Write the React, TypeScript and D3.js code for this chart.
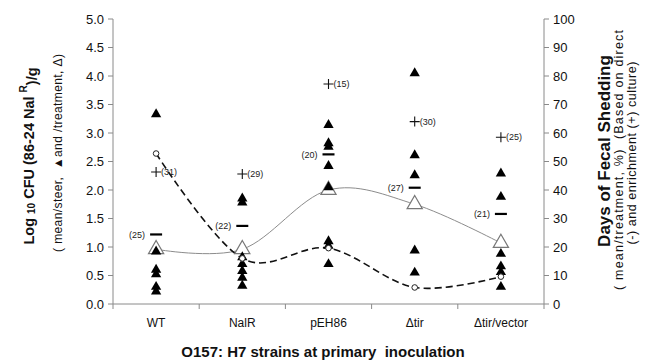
import * as d3 from "d3";

const categories = ["WT", "NalR", "pEH86", "Δtir", "Δtir/vector"];

// filled triangles: log10 CFU per steer
const steerValues = [
  [3.33, 0.92, 0.6, 0.52, 0.3, 0.22],
  [1.85, 1.78, 0.82, 0.7, 0.58, 0.46, 0.32],
  [3.14, 2.82, 2.76, 2.42, 2.05, 1.1, 1.02, 0.7],
  [4.05, 2.61, 2.26, 0.94, 0.55],
  [2.29, 1.88, 0.88, 0.66, 0.56, 0.3],
];
// open triangles: mean per treatment (solid line)
const treatmentMeans = [0.96, 0.96, 2.0, 1.75, 1.07];
// open circles (dashed line)
const dashedMeans = [2.64, 0.8, 0.98, 0.29, 0.48];
// days of fecal shedding, % (direct "-" and enrichment "+")
const directDays = [24.4, 27.4, 52.5, 40.8, 31.6];
const directLabels = ["(25)", "(22)", "(20)", "(27)", "(21)"];
const enrichDays = [46.3, 45.6, 77.2, 64, 58.5];
const enrichLabels = ["(31)", "(29)", "(15)", "(30)", "(25)"];

const leftTicks = [0, 0.5, 1, 1.5, 2, 2.5, 3, 3.5, 4, 4.5, 5];
const rightTicks = [0, 10, 20, 30, 40, 50, 60, 70, 80, 90, 100];

const W = 651, H = 364;
const L = 113, R = 544, T = 19, B = 304;
const font = "'Liberation Sans', Arial, sans-serif";
const axisColor = "#8a8a8a";

export default function App() {
  const x = d3.scaleBand().domain(categories).range([L, R]);
  const xc = (c: string) => (x(c) as number) + x.bandwidth() / 2;
  const yL = d3.scaleLinear().domain([0, 5]).range([B, T]);
  const yR = d3.scaleLinear().domain([0, 100]).range([B, T]);

  const tri = d3.symbol().type(d3.symbolTriangle);
  const smallTri = tri.size(46)() as string;
  const bigTri = tri.size(100)() as string;

  const line = d3
    .line<number>()
    .x((_, i) => xc(categories[i]))
    .y(d => yL(d))
    .curve(d3.curveCardinal.tension(0));

  const boundaries = [...categories.map(c => x(c) as number), R];

  return (
    <svg width={W} height={H} style={{ position: "absolute", left: 0, top: 0, background: "#fff" }} fontFamily={font}>
      {/* axes */}
      <line x1={L} x2={L} y1={T} y2={B} stroke={axisColor} />
      <line x1={R} x2={R} y1={T} y2={B} stroke={axisColor} />
      <line x1={L} x2={R} y1={B} y2={B} stroke={axisColor} />
      {leftTicks.map(t => (
        <g key={"l" + t}>
          <line x1={L - 5} x2={L} y1={yL(t)} y2={yL(t)} stroke={axisColor} />
          <text x={L - 9} y={yL(t)} dy="0.35em" textAnchor="end" fontSize={13} fill="#111">
            {t.toFixed(1)}
          </text>
        </g>
      ))}
      {rightTicks.map(t => (
        <g key={"r" + t}>
          <line x1={R} x2={R + 5} y1={yR(t)} y2={yR(t)} stroke={axisColor} />
          <text x={R + 9} y={yR(t)} dy="0.35em" fontSize={13} fill="#111">
            {t}
          </text>
        </g>
      ))}
      {boundaries.map((b, i) => (
        <line key={"b" + i} x1={b} x2={b} y1={B} y2={B + 5} stroke={axisColor} />
      ))}
      {categories.map(c => (
        <text key={c} x={xc(c)} y={327} textAnchor="middle" fontSize={12} fill="#111">
          {c}
        </text>
      ))}
      <text x={323} y={357} textAnchor="middle" fontSize={15} fontWeight="bold" fill="#111" style={{ whiteSpace: "pre" }}>
        O157: H7 strains at primary  inoculation
      </text>

      {/* left titles */}
      <text transform="translate(34,156) rotate(-90)" textAnchor="middle" fontSize={14.5} fontWeight="bold" fill="#111">
        Log <tspan fontSize={10} dy="0.1em">10</tspan>
        <tspan dy="-0.1em"> CFU (86-24 Nal </tspan>
        <tspan fontSize={10} dy="-0.7em">R</tspan>
        <tspan dy="0.7em">)/g</tspan>
      </text>
      <text transform="translate(62,153) rotate(-90)" textAnchor="middle" fontSize={12} fill="#111"
        textLength={198} lengthAdjust="spacing" style={{ whiteSpace: "pre" }}>
        ( mean/steer,  ▲and /treatment, Δ)
      </text>

      {/* right titles */}
      <text transform="translate(610,151) rotate(-90)" textAnchor="middle" fontSize={17} fontWeight="bold" fill="#111">
        Days of Fecal Shedding
      </text>
      <text transform="translate(623,160) rotate(-90)" textAnchor="middle" fontSize={12.5} fill="#111"
        textLength={260} lengthAdjust="spacing" style={{ whiteSpace: "pre" }}>
        ( mean/treatment, %)  (Based on direct
      </text>
      <text transform="translate(636,153) rotate(-90)" textAnchor="middle" fontSize={12.5} fill="#111"
        textLength={183} lengthAdjust="spacing" style={{ whiteSpace: "pre" }}>
        (-) and enrichment (+) culture)
      </text>

      {/* lines */}
      <path d={line(treatmentMeans) as string} fill="none" stroke="#8c8c8c" strokeWidth={1} />
      <path d={line(dashedMeans) as string} fill="none" stroke="#111" strokeWidth={1.6} strokeDasharray="7,4" />

      {/* open triangles */}
      {treatmentMeans.map((v, i) => (
        <path key={"ot" + i} d={bigTri} transform={`translate(${xc(categories[i])},${yL(v)})`} fill="#fff" stroke="#777" strokeWidth={1.2} />
      ))}
      {/* filled triangles */}
      {steerValues.map((vals, i) =>
        vals.map((v, j) => (
          <path key={`ft${i}-${j}`} d={smallTri} transform={`translate(${xc(categories[i])},${yL(v)})`} fill="#000" />
        ))
      )}
      {/* open circles */}
      {dashedMeans.map((v, i) => (
        <circle key={"oc" + i} cx={xc(categories[i])} cy={yL(v)} r={2.8} fill="#fff" stroke="#222" strokeWidth={1} />
      ))}

      {/* direct culture "-" */}
      {directDays.map((v, i) => (
        <g key={"d" + i}>
          <line x1={xc(categories[i]) - 6} x2={xc(categories[i]) + 6} y1={yR(v)} y2={yR(v)} stroke="#000" strokeWidth={2.2} />
          <text x={xc(categories[i]) - 11} y={yR(v)} dy="0.35em" textAnchor="end" fontSize={9} fill="#222">
            {directLabels[i]}
          </text>
        </g>
      ))}
      {/* enrichment culture "+" */}
      {enrichDays.map((v, i) => (
        <g key={"e" + i}>
          <path
            d={`M${xc(categories[i]) - 5},${yR(v)}H${xc(categories[i]) + 5}M${xc(categories[i])},${yR(v) - 5}V${yR(v) + 5}`}
            stroke="#111"
            strokeWidth={1.1}
            fill="none"
          />
          <text x={xc(categories[i]) + 5} y={yR(v)} dy="0.35em" fontSize={9} fill="#222">
            {enrichLabels[i]}
          </text>
        </g>
      ))}
    </svg>
  );
}
